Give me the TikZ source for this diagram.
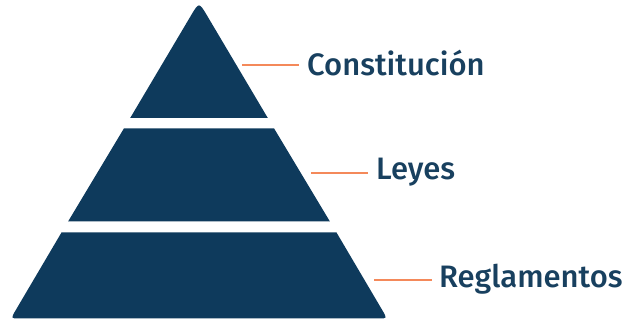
\documentclass[tikz,border=0pt]{standalone}
\usepackage{fontspec}
\setmainfont{Fira Sans}[UprightFont=* Medium]
\usetikzlibrary{calc}
\definecolor{navy}{HTML}{0E3A5C}
\definecolor{textnavy}{HTML}{18405F}
\definecolor{lineorange}{HTML}{F4895A}
\tikzset{
  band/.style={fill=navy},
  leader/.style={draw=lineorange, line width=1.6pt},
  lbl/.style={anchor=base west, inner sep=0pt, text=textnavy, font=\fontsize{31}{31}\selectfont}
}
\begin{document}
\begin{tikzpicture}[x=1pt,y=-1pt]
\useasboundingbox (0,0) rectangle (633,320);
% pyramid geometry: apex (199,2), slope 0.596
\coordinate (apex) at (199,2);
\coordinate (t1l) at (130.2,118);
\coordinate (t1r) at (267.8,118);
\coordinate (t2l) at (123.9,128.5);
\coordinate (t2r) at (274.1,128.5);
\coordinate (b2l) at (68.1,221.5);
\coordinate (b2r) at (329.9,221.5);
\coordinate (t3l) at (61.5,232.5);
\coordinate (t3r) at (336.5,232.5);
\coordinate (b3l) at (10.8,318.5);
\coordinate (b3r) at (387.2,318.5);
% top triangle with rounded apex
\fill[band] (t1l) -- ($(apex)!16pt!(t1l)$) .. controls (apex) .. ($(apex)!16pt!(t1r)$) -- (t1r) -- cycle;
% middle band
\fill[band] (t2l) -- (t2r) -- (b2r) -- (b2l) -- cycle;
% bottom band with rounded bottom corners
\fill[band] (t3l) -- (t3r) -- ($(b3r)!10pt!(t3r)$) .. controls (b3r) .. ($(b3r)!8pt!(b3l)$)
  -- ($(b3l)!8pt!(b3r)$) .. controls (b3l) .. ($(b3l)!10pt!(t3l)$) -- cycle;
% labels
\node[lbl] (c) at (307,76) {Constitución};
\node[lbl] (l) at (376,180) {Leyes};
\node[lbl] (r) at (439,288) {Reglamentos};
\coordinate (cs) at (242,65);
\coordinate (ls) at (311,173);
\coordinate (rs) at (374,280);
\draw[leader] (cs) -- ($(cs -| c.west)+(-8,0)$);
\draw[leader] (ls) -- ($(ls -| l.west)+(-8,0)$);
\draw[leader] (rs) -- ($(rs -| r.west)+(-7,0)$);
\end{tikzpicture}
\end{document}
